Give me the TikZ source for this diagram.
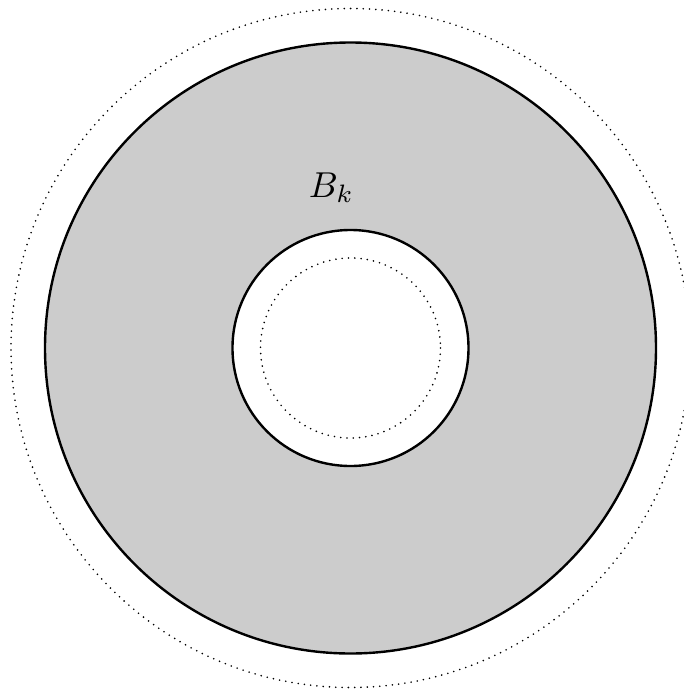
\documentclass[tikz,border=0pt]{standalone}
\begin{document}
\begin{tikzpicture}[x=1pt,y=-1pt,
  solidcirc/.style={draw=black,line width=2.4pt},
  dotcirc/.style={draw=black,line width=1.8pt,dash pattern=on 0pt off 6.3pt,line cap=round}]
\useasboundingbox (0,0) rectangle (683,691);
\coordinate (c) at (350.5,348);
\fill[black!20,even odd rule] (c) circle[radius=305.5] (c) circle[radius=118];
\draw[solidcirc] (c) circle[radius=305.5];
\draw[solidcirc] (c) circle[radius=118];
\draw[dotcirc] (c) circle[radius=339.5];
\draw[dotcirc] (c) circle[radius=90];
\node[anchor=base,scale=3.6,inner sep=0pt] (bk) at (331.5,197) {$B_k$};
\end{tikzpicture}
\end{document}
